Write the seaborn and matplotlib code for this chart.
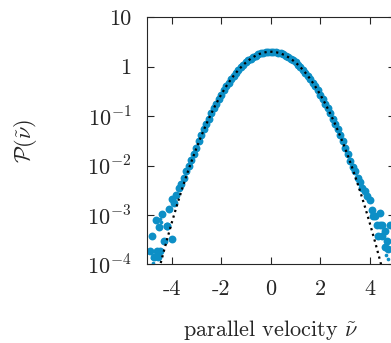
import numpy as np
import pandas as pd
import matplotlib
matplotlib.use("Agg")
import matplotlib.pyplot as plt
import seaborn as sns

# bin centres of the measured distribution and log10 of P
vel = [-4.8, -4.7, -4.6, -4.5, -4.4, -4.3, -4.2, -4.1, -4.0, -3.9,
       -3.8, -3.7, -3.6, -3.5, -3.4, -3.3, -3.2, -3.1, -3.0, -2.9,
       -2.8, -2.7, -2.6, -2.5, -2.4, -2.3, -2.2, -2.1, -2.0, -1.9,
       -1.8, -1.7, -1.6, -1.5, -1.4, -1.3, -1.2, -1.1, -1.0, -0.9,
       -0.8, -0.7, -0.6, -0.5, -0.4, -0.3, -0.2, -0.1, 0.0, 0.1,
       0.2, 0.3, 0.4, 0.5, 0.6, 0.7, 0.8, 0.9, 1.0, 1.1,
       1.2, 1.3, 1.4, 1.5, 1.6, 1.7, 1.8, 1.9, 2.0, 2.1,
       2.2, 2.3, 2.4, 2.5, 2.6, 2.7, 2.8, 2.9, 3.0, 3.1,
       3.2, 3.3, 3.4, 3.5, 3.6, 3.7, 3.8, 3.9, 4.0, 4.1,
       4.2, 4.3, 4.4, 4.5, 4.6, 4.7, 4.8]
log_p = [-3.42, -3.85, -3.72, -3.25, -2.98, -3.52, -3.22, -2.88, -2.68, -2.75,
         -2.60, -2.45, -2.38, -2.25, -2.11, -2.00, -1.88, -1.76, -1.64, -1.51,
         -1.39, -1.27, -1.16, -1.05, -0.94, -0.84, -0.75, -0.655, -0.565, -0.48,
         -0.40, -0.325, -0.253, -0.186, -0.124, -0.065, -0.011, 0.038, 0.084, 0.125,
         0.162, 0.195, 0.223, 0.247, 0.266, 0.281, 0.292, 0.299, 0.301, 0.299,
         0.292, 0.281, 0.266, 0.247, 0.223, 0.195, 0.162, 0.125, 0.084, 0.038,
         -0.011, -0.065, -0.124, -0.186, -0.253, -0.325, -0.40, -0.48, -0.565, -0.655,
         -0.75, -0.84, -0.94, -1.05, -1.16, -1.27, -1.39, -1.51, -1.64, -1.77,
         -1.90, -2.02, -2.11, -2.25, -2.34, -2.45, -2.52, -2.62, -2.70, -2.90,
         -3.02, -3.20, -2.95, -3.43, -3.32, -3.52, -3.20]

# extra scattered points in the tails
tail_vel = [-4.87, -4.46, -4.54, -3.99, -4.19, -4.62, 4.14, 4.33, 4.50, 4.60, 4.73, 4.40]
tail_log_p = [-3.72, -3.72, -3.85, -3.49, -3.22, -3.10, -3.02, -3.43, -3.20, -3.65, -3.69, -3.20]

# smaller dots
small_vel = [-4.80, -4.55, -4.48, -4.42, -4.75, 4.73, 4.65]
small_log_p = [-3.87, -3.87, -3.08, -3.14, -3.97, -3.89, -3.80]

# gaussian reference: amplitude and width
gauss_amp = 2.0
gauss_sigma = 1.0

xticks = [-4, -2, 0, 2, 4]
xticklabels = ["-4", "-2", "0", "2", "4"]
yticks = [1e-4, 1e-3, 1e-2, 1e-1, 1, 10]
yticklabels = [r"$10^{-4}$", r"$10^{-3}$", r"$10^{-2}$", r"$10^{-1}$", "1", "10"]

sns.set_style("ticks")
plt.rcParams["font.family"] = ["cmr10", "DejaVu Serif"]
plt.rcParams["mathtext.fontset"] = "cm"
plt.rcParams["axes.formatter.use_mathtext"] = True

blue = "#0d8fc6"
fs = 16

df_main = pd.DataFrame({"v": vel, "p": 10.0 ** np.array(log_p)})
df_tail = pd.DataFrame({"v": tail_vel, "p": 10.0 ** np.array(tail_log_p)})
df_small = pd.DataFrame({"v": small_vel, "p": 10.0 ** np.array(small_log_p)})
v_fine = np.linspace(-5, 5, 400)
df_gauss = pd.DataFrame({"v": v_fine,
                         "p": gauss_amp * np.exp(-v_fine ** 2 / (2 * gauss_sigma ** 2))})

fig = plt.figure(figsize=(3.91, 3.43), dpi=100)
ax = fig.add_axes([0.3752, 0.2289, 0.6343, 0.721])

sns.scatterplot(data=df_main, x="v", y="p", ax=ax, color=blue, s=32,
                linewidth=0, zorder=2)
sns.scatterplot(data=df_tail, x="v", y="p", ax=ax, color=blue, s=32,
                linewidth=0, zorder=2)
sns.scatterplot(data=df_small, x="v", y="p", ax=ax, color=blue, s=7,
                linewidth=0, zorder=2)
sns.lineplot(data=df_gauss, x="v", y="p", ax=ax, color="black",
             linestyle=":", linewidth=1.6, zorder=3)

ax.set_yscale("log")
ax.set_xlim(-5, 5)
ax.set_ylim(1e-4, 10)
ax.set_xticks(xticks)
ax.set_xticklabels(xticklabels)
ax.set_yticks(yticks)
ax.set_yticklabels(yticklabels)
ax.minorticks_off()
ax.yaxis.set_minor_locator(matplotlib.ticker.NullLocator())
ax.tick_params(axis="both", which="major", direction="in", length=5,
               width=0.8, top=True, right=True, labelsize=fs, pad=11)
for sp in ax.spines.values():
    sp.set_linewidth(0.8)
    sp.set_visible(True)

ax.set_xlabel(r"parallel velocity $\tilde{\nu}$", fontsize=fs)
ax.set_ylabel(r"$\mathcal{P}(\tilde{\nu})$", fontsize=fs)
ax.xaxis.set_label_coords(0.5, -0.215)
ax.yaxis.set_label_coords(-0.434, 0.5)

fig.savefig("out.png", dpi=100)
